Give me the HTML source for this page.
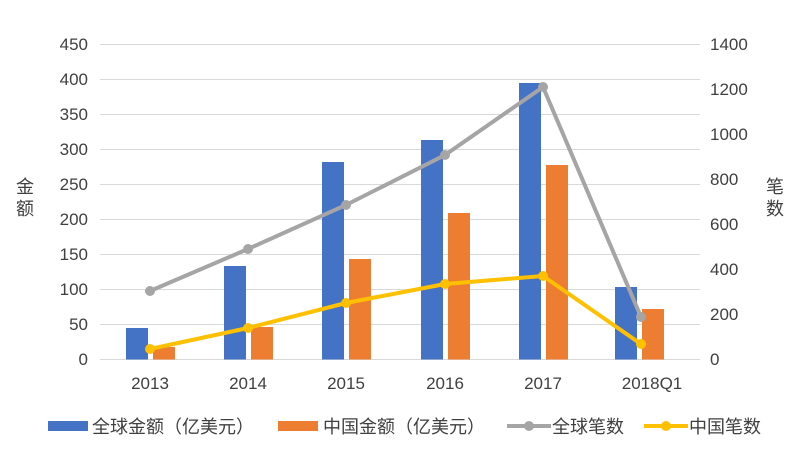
<!DOCTYPE html><html><head><meta charset="utf-8"><style>body{margin:0;background:#fff}</style></head><body>
<svg width="800" height="455" xmlns="http://www.w3.org/2000/svg" font-family="Liberation Sans, Noto Sans CJK SC, sans-serif" fill="#404040">
<g stroke="#d9d9d9" stroke-width="1">
<line x1="100" x2="700" y1="44.5" y2="44.5"/><line x1="100" x2="700" y1="79.5" y2="79.5"/><line x1="100" x2="700" y1="114.5" y2="114.5"/><line x1="100" x2="700" y1="149.5" y2="149.5"/><line x1="100" x2="700" y1="184.5" y2="184.5"/><line x1="100" x2="700" y1="219.5" y2="219.5"/><line x1="100" x2="700" y1="254.5" y2="254.5"/><line x1="100" x2="700" y1="289.5" y2="289.5"/><line x1="100" x2="700" y1="324.5" y2="324.5"/><line x1="100" x2="700" y1="359.5" y2="359.5"/>
</g>
<g font-size="17" text-anchor="end">
<text x="88" y="50">450</text><text x="88" y="85">400</text><text x="88" y="120">350</text><text x="88" y="155">300</text><text x="88" y="190">250</text><text x="88" y="225">200</text><text x="88" y="260">150</text><text x="88" y="295">100</text><text x="88" y="330">50</text><text x="88" y="365">0</text>
</g>
<g font-size="17">
<text x="710" y="50">1400</text><text x="710" y="95">1200</text><text x="710" y="140">1000</text><text x="710" y="185">800</text><text x="710" y="230">600</text><text x="710" y="275">400</text><text x="710" y="320">200</text><text x="710" y="365">0</text>
</g>
<g font-size="18"><text x="16" y="193">金</text><text x="16" y="215">额</text><text x="766" y="193">笔</text><text x="766" y="215">数</text></g>
<g fill="#4472c4">
<rect x="126" y="328" width="22" height="31.5"/><rect x="224" y="266" width="22" height="93.5"/><rect x="322" y="162" width="22" height="197.5"/><rect x="421" y="140" width="22" height="219.5"/><rect x="519" y="83" width="22" height="276.5"/><rect x="615" y="287" width="22" height="72.5"/>
</g>
<g fill="#ed7d31">
<rect x="153" y="347" width="22" height="12.5"/><rect x="251" y="327" width="22" height="32.5"/><rect x="349" y="259" width="22" height="100.5"/><rect x="448" y="213" width="22" height="146.5"/><rect x="546" y="165" width="22" height="194.5"/><rect x="642" y="309" width="22" height="50.5"/>
</g>
<polyline fill="none" stroke="#a5a5a5" stroke-width="4" points="150,291 248,249 346,205 445,155 543,87 641,317"/>
<g fill="#a5a5a5"><circle cx="150" cy="291" r="5"/><circle cx="248" cy="249" r="5"/><circle cx="346" cy="205" r="5"/><circle cx="445" cy="155" r="5"/><circle cx="543" cy="87" r="5"/><circle cx="641" cy="317" r="5"/></g>
<polyline fill="none" stroke="#ffc000" stroke-width="4" points="150,349 248,328 346,303 445,284 543,276 641,344"/>
<g fill="#ffc000"><circle cx="150" cy="349" r="5"/><circle cx="248" cy="328" r="5"/><circle cx="346" cy="303" r="5"/><circle cx="445" cy="284" r="5"/><circle cx="543" cy="276" r="5"/><circle cx="641" cy="344" r="5"/></g>
<g font-size="17" text-anchor="middle">
<text x="150" y="389">2013</text><text x="248" y="389">2014</text><text x="346" y="389">2015</text><text x="445" y="389">2016</text><text x="543" y="389">2017</text><text x="652" y="389">2018Q1</text>
</g>
<g font-size="18">
<rect x="48" y="421" width="40" height="10" fill="#4472c4"/><text x="92" y="433">全球金额（亿美元）</text>
<rect x="278" y="421" width="40" height="10" fill="#ed7d31"/><text x="323" y="433">中国金额（亿美元）</text>
<line x1="507" x2="551" y1="426" y2="426" stroke="#a5a5a5" stroke-width="4"/><circle cx="529" cy="426" r="5" fill="#a5a5a5"/><text x="552" y="433">全球笔数</text>
<line x1="644" x2="688" y1="426" y2="426" stroke="#ffc000" stroke-width="4"/><circle cx="666" cy="426" r="5" fill="#ffc000"/><text x="689" y="433">中国笔数</text>
</g>
</svg>
</body></html>
